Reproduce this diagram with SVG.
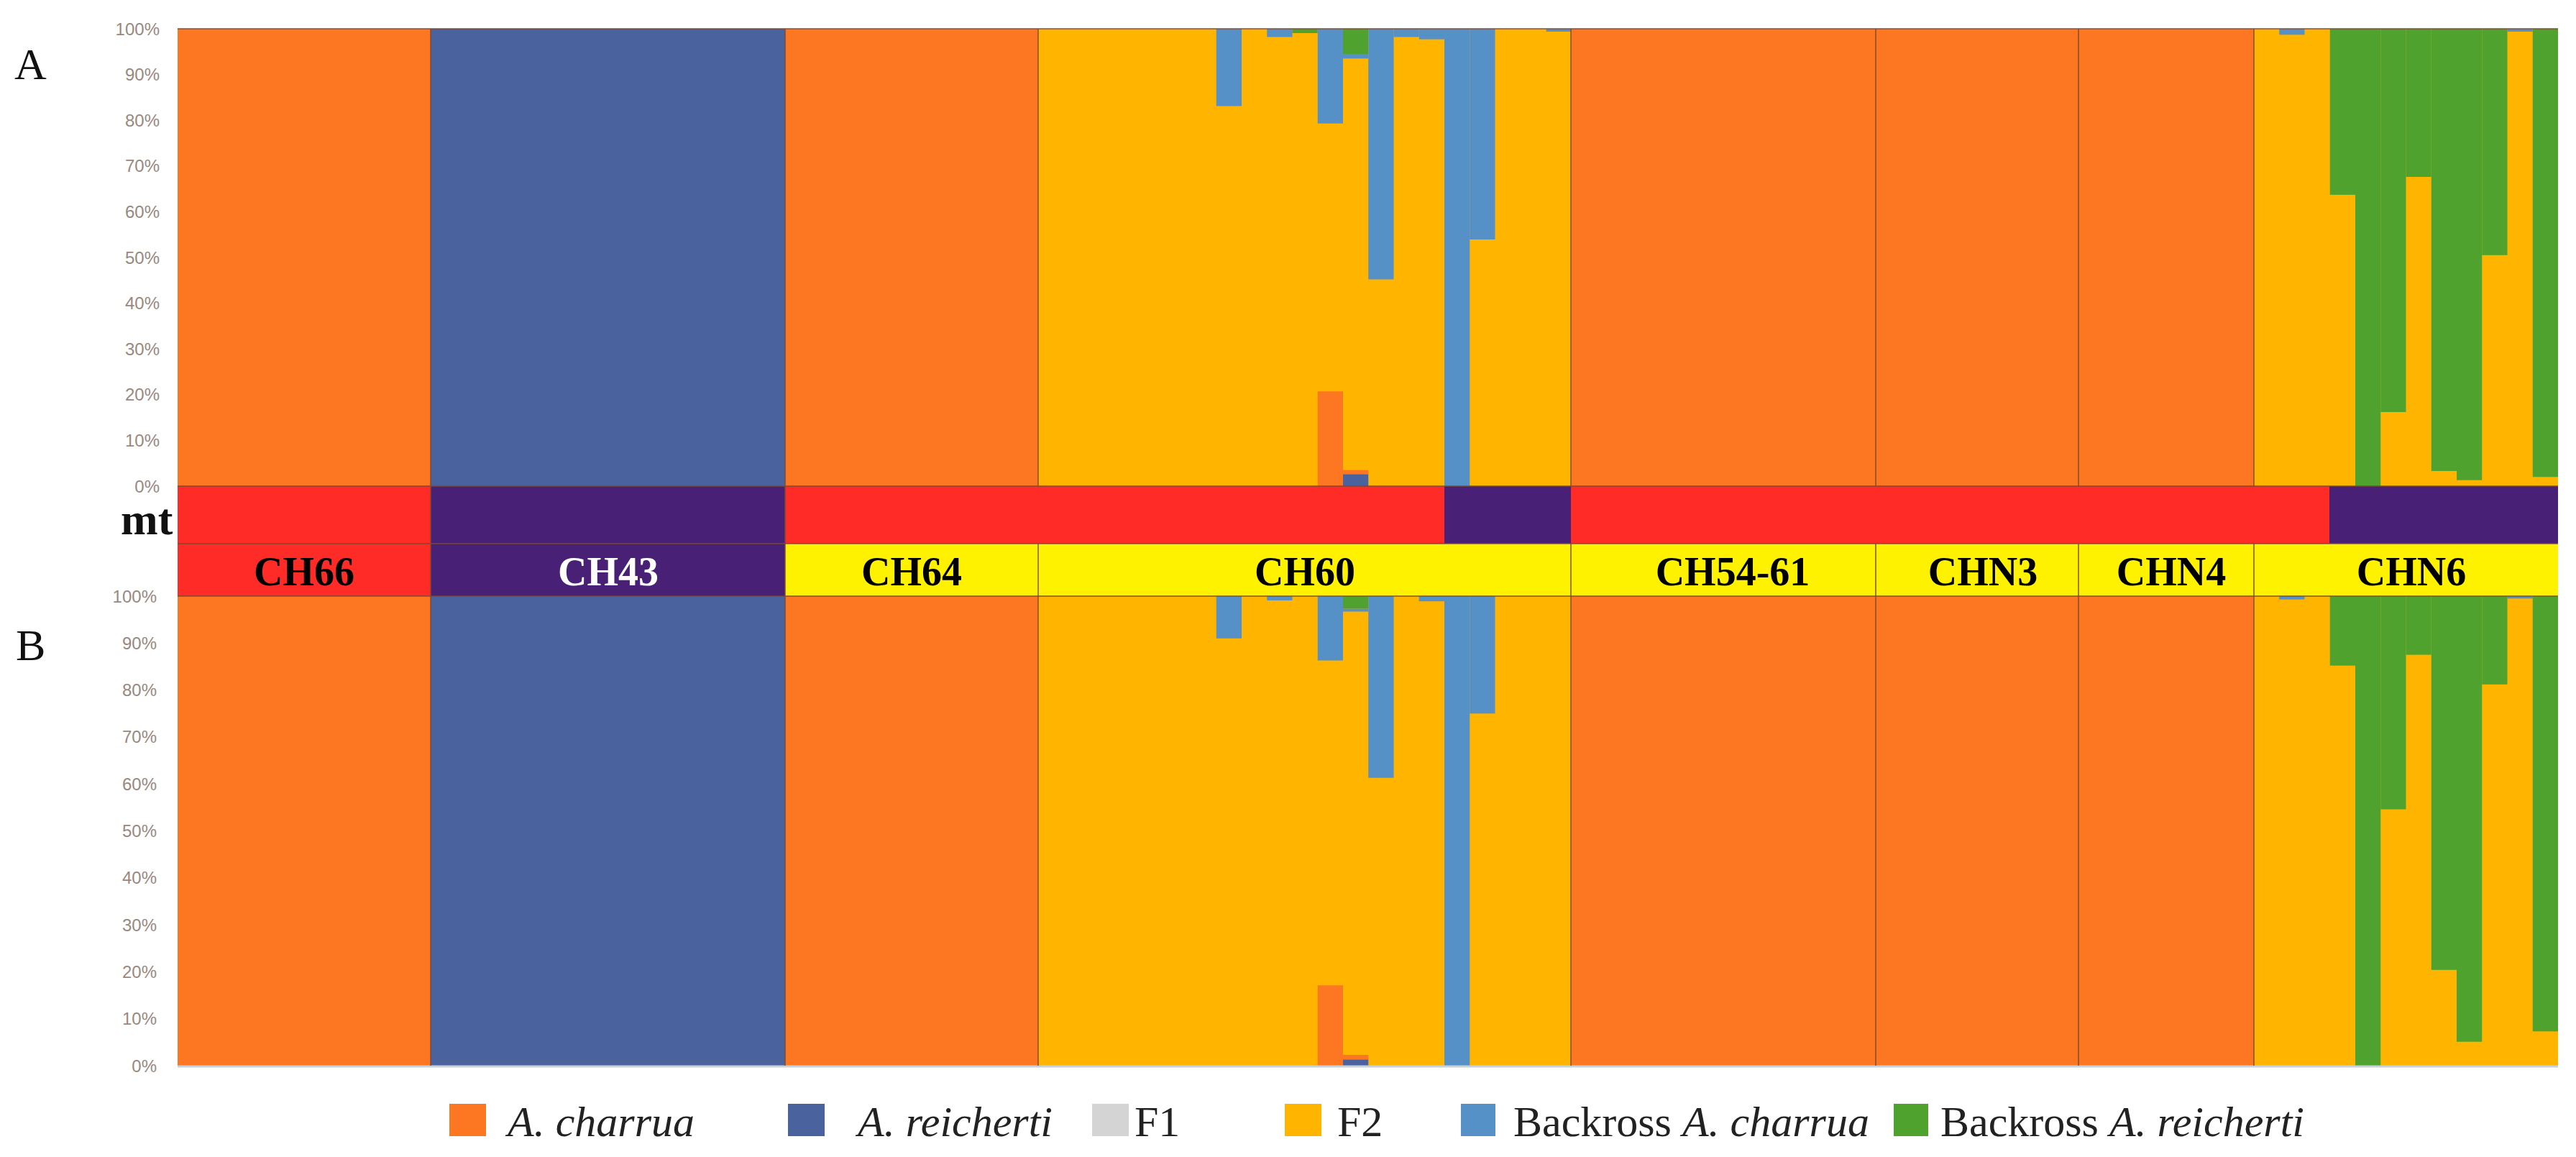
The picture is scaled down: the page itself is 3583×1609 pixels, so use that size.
<svg xmlns="http://www.w3.org/2000/svg" width="3583" height="1609" viewBox="0 0 3583 1609">
<style>
.o{fill:#FD7621}.rb{fill:#4A629D}.y{fill:#FFB500}.lb{fill:#5590C6}.g{fill:#4FA22E}.gr{fill:#D4D4D4}
.red{fill:#FF2B26}.pur{fill:#482176}.yel{fill:#FFF200}
.tick{font-family:"Liberation Sans",Arial,sans-serif;font-size:24px;fill:#9a8880;text-anchor:end;dominant-baseline:central}
.pl{font-family:"Liberation Serif","Times New Roman",serif;font-size:62px;fill:#111}
.lab{font-family:"Liberation Serif","Times New Roman",serif;font-size:56px;font-weight:bold;text-anchor:middle}
.leg{font-family:"Liberation Serif","Times New Roman",serif;font-size:60px;fill:#222}
.sep{stroke:#7a4a30;stroke-width:2;stroke-opacity:0.7}
</style>
<rect width="3583" height="1609" fill="#ffffff"/>
<g id="panel-labels">
<text class="pl" x="20" y="110">A</text>
<text class="pl" x="22" y="918">B</text>
<text class="pl" x="168" y="743" font-weight="bold" font-size="58">mt</text>
</g>
<g id="ticks-A">
<text class="tick" x="222" y="40">100%</text><text class="tick" x="222" y="103.6">90%</text><text class="tick" x="222" y="167.2">80%</text><text class="tick" x="222" y="230.8">70%</text><text class="tick" x="222" y="294.4">60%</text><text class="tick" x="222" y="358">50%</text><text class="tick" x="222" y="421.6">40%</text><text class="tick" x="222" y="485.2">30%</text><text class="tick" x="222" y="548.8">20%</text><text class="tick" x="222" y="612.4">10%</text><text class="tick" x="222" y="676">0%</text>
</g>
<g id="ticks-B">
<text class="tick" x="218" y="829">100%</text><text class="tick" x="218" y="894.3">90%</text><text class="tick" x="218" y="959.6">80%</text><text class="tick" x="218" y="1024.9">70%</text><text class="tick" x="218" y="1090.2">60%</text><text class="tick" x="218" y="1155.5">50%</text><text class="tick" x="218" y="1220.8">40%</text><text class="tick" x="218" y="1286.1">30%</text><text class="tick" x="218" y="1351.4">20%</text><text class="tick" x="218" y="1416.7">10%</text><text class="tick" x="218" y="1482">0%</text>
</g>
<g id="chart-A">
<rect class="o" x="247" y="40" width="352" height="636"/>
<rect class="rb" x="599" y="40" width="493" height="636"/>
<rect class="o" x="1092" y="40" width="352" height="636"/>
<rect class="y" x="1444" y="40" width="741" height="636"/>
<rect class="lb" x="1691.75" y="40" width="35.25" height="107.5"/>
<rect class="lb" x="1762.25" y="40" width="35.25" height="11.4"/>
<rect class="g" x="1797.5" y="40" width="35.25" height="6"/>
<rect class="lb" x="1832.75" y="40" width="35.25" height="131.7"/>
<rect class="o" x="1832.75" y="544.3" width="35.25" height="131.7"/>
<rect class="g" x="1868" y="40" width="35.25" height="35"/>
<rect class="lb" x="1868" y="75" width="35.25" height="6.4"/>
<rect class="o" x="1868" y="653.7" width="35.25" height="5.8"/>
<rect class="rb" x="1868" y="659.5" width="35.25" height="16.5"/>
<rect class="lb" x="1903.25" y="40" width="35.25" height="348.5"/>
<rect class="lb" x="1938.5" y="40" width="35.25" height="11.4"/>
<rect class="lb" x="1973.75" y="40" width="35.25" height="14.6"/>
<rect class="lb" x="2009" y="40" width="35.25" height="636"/>
<rect class="lb" x="2044.25" y="40" width="35.25" height="293"/>
<rect class="lb" x="2150.75" y="40" width="34.25" height="4"/>
<rect class="o" x="2185" y="40" width="950" height="636"/>
<rect class="y" x="3135" y="40" width="423" height="636"/>
<rect class="lb" x="3170.25" y="40" width="35.25" height="8.3"/>
<rect class="g" x="3240.75" y="40" width="35.25" height="230.9"/>
<rect class="g" x="3276" y="40" width="35.25" height="636"/>
<rect class="g" x="3311.25" y="40" width="35.25" height="533"/>
<rect class="g" x="3346.5" y="40" width="35.25" height="206"/>
<rect class="g" x="3381.75" y="40" width="35.25" height="615"/>
<rect class="g" x="3417" y="40" width="35.25" height="627.7"/>
<rect class="g" x="3452.25" y="40" width="35.25" height="314.8"/>
<rect class="lb" x="3487.5" y="40" width="35.25" height="4"/>
<rect class="g" x="3522.75" y="40" width="35.25" height="623.3"/>
</g>
<g id="mt-band">
<rect class="red" x="247" y="676" width="352" height="80"/>
<rect class="pur" x="599" y="676" width="493" height="80"/>
<rect class="red" x="1092" y="676" width="917" height="80"/>
<rect class="pur" x="2009" y="676" width="176" height="80"/>
<rect class="red" x="2185" y="676" width="1055" height="80"/>
<rect class="pur" x="3240" y="676" width="318" height="80"/>
</g>
<g id="label-band">
<rect class="red" x="247" y="756" width="352" height="73"/>
<rect class="pur" x="599" y="756" width="493" height="73"/>
<rect class="yel" x="1092" y="756" width="2466" height="73"/>
<text class="lab" x="423" y="814" fill="#000">CH66</text>
<text class="lab" x="846" y="814" fill="#fff">CH43</text>
<text class="lab" x="1268" y="814" fill="#000">CH64</text>
<text class="lab" x="1815" y="814" fill="#000">CH60</text>
<text class="lab" x="2410" y="814" fill="#000">CH54-61</text>
<text class="lab" x="2758" y="814" fill="#000">CHN3</text>
<text class="lab" x="3020" y="814" fill="#000">CHN4</text>
<text class="lab" x="3354" y="814" fill="#000">CHN6</text>
</g>
<g id="chart-B">
<rect class="o" x="247" y="829" width="352" height="653"/>
<rect class="rb" x="599" y="829" width="493" height="653"/>
<rect class="o" x="1092" y="829" width="352" height="653"/>
<rect class="y" x="1444" y="829" width="741" height="653"/>
<rect class="lb" x="1691.75" y="829" width="35.25" height="58.8"/>
<rect class="lb" x="1762.25" y="829" width="35.25" height="5.9"/>
<rect class="lb" x="1832.75" y="829" width="35.25" height="89.5"/>
<rect class="o" x="1832.75" y="1370.3" width="35.25" height="111.7"/>
<rect class="g" x="1868" y="829" width="35.25" height="17.6"/>
<rect class="lb" x="1868" y="846.6" width="35.25" height="3.9"/>
<rect class="o" x="1868" y="1467" width="35.25" height="6.5"/>
<rect class="rb" x="1868" y="1473.5" width="35.25" height="8.5"/>
<rect class="lb" x="1903.25" y="829" width="35.25" height="252.7"/>
<rect class="lb" x="1973.75" y="829" width="35.25" height="7.2"/>
<rect class="lb" x="2009" y="829" width="35.25" height="653"/>
<rect class="lb" x="2044.25" y="829" width="35.25" height="163.3"/>
<rect class="o" x="2185" y="829" width="950" height="653"/>
<rect class="y" x="3135" y="829" width="423" height="653"/>
<rect class="lb" x="3170.25" y="829" width="35.25" height="4.6"/>
<rect class="g" x="3240.75" y="829" width="35.25" height="96.6"/>
<rect class="g" x="3276" y="829" width="35.25" height="653"/>
<rect class="g" x="3311.25" y="829" width="35.25" height="296.5"/>
<rect class="g" x="3346.5" y="829" width="35.25" height="81.6"/>
<rect class="g" x="3381.75" y="829" width="35.25" height="519.8"/>
<rect class="g" x="3417" y="829" width="35.25" height="619.7"/>
<rect class="g" x="3452.25" y="829" width="35.25" height="122.8"/>
<rect class="lb" x="3487.5" y="829" width="35.25" height="3.3"/>
<rect class="g" x="3522.75" y="829" width="35.25" height="605.3"/>
</g>
<g id="connectors">
<line class="sep" x1="247" y1="40" x2="3558" y2="40"/>
<line class="sep" x1="247" y1="676" x2="3558" y2="676"/>
<line class="sep" x1="247" y1="756" x2="3558" y2="756"/>
<line class="sep" x1="247" y1="829" x2="3558" y2="829"/>
<line x1="247" y1="1483" x2="3558" y2="1483" stroke="#c8d0d8" stroke-width="3"/>
<line class="sep" x1="599" y1="40" x2="599" y2="1482"/>
<line class="sep" x1="1092" y1="40" x2="1092" y2="1482"/>
<line class="sep" x1="1444" y1="40" x2="1444" y2="676"/>
<line class="sep" x1="1444" y1="756" x2="1444" y2="1482"/>
<line class="sep" x1="2185" y1="40" x2="2185" y2="676"/>
<line class="sep" x1="2185" y1="756" x2="2185" y2="1482"/>
<line class="sep" x1="2609" y1="40" x2="2609" y2="676"/>
<line class="sep" x1="2609" y1="756" x2="2609" y2="1482"/>
<line class="sep" x1="2891" y1="40" x2="2891" y2="676"/>
<line class="sep" x1="2891" y1="756" x2="2891" y2="1482"/>
<line class="sep" x1="3135" y1="40" x2="3135" y2="676"/>
<line class="sep" x1="3135" y1="756" x2="3135" y2="1482"/>
</g>
<g id="legend">
<rect class="o" x="625" y="1535" width="51" height="45"/>
<text class="leg" x="706" y="1580" font-style="italic">A. charrua</text>
<rect class="rb" x="1096" y="1535" width="51" height="45"/>
<text class="leg" x="1193" y="1580" font-style="italic">A. reicherti</text>
<rect class="gr" x="1519" y="1535" width="51" height="45"/>
<text class="leg" x="1578" y="1580">F1</text>
<rect class="y" x="1787" y="1535" width="51" height="45"/>
<text class="leg" x="1860" y="1580">F2</text>
<rect class="lb" x="2032" y="1535" width="48" height="45"/>
<text class="leg" x="2105" y="1580">Backross <tspan font-style="italic">A. charrua</tspan></text>
<rect class="g" x="2634" y="1535" width="48" height="45"/>
<text class="leg" x="2699" y="1580">Backross <tspan font-style="italic">A. reicherti</tspan></text>
</g>
</svg>
